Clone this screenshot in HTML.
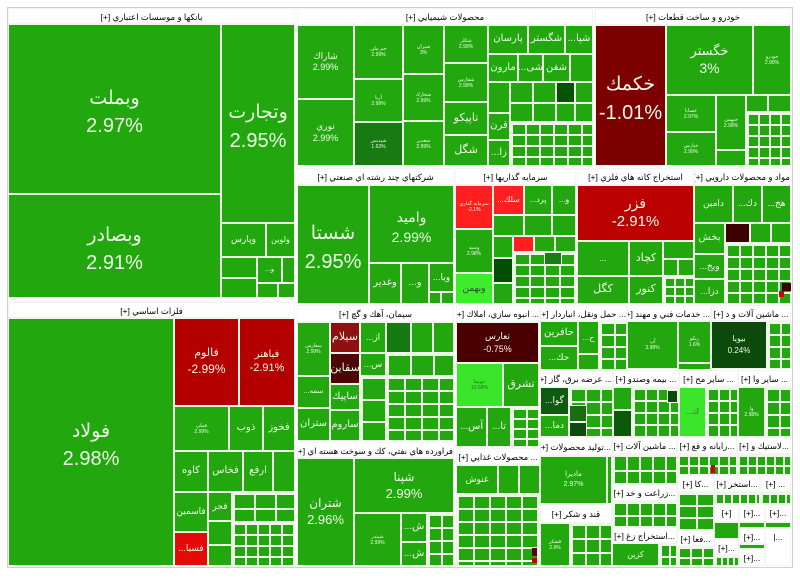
<!DOCTYPE html>
<html><head><meta charset="utf-8"><style>
body{margin:0;width:800px;height:579px;background:#fff;position:relative;overflow:hidden;font-family:"Liberation Sans","DejaVu Sans",sans-serif}
.c,.g,.h{position:absolute;box-sizing:border-box;overflow:hidden}
.c{border:1px solid #eef6ea;background:#22a80e;color:#eefbe8;display:flex;flex-direction:column;align-items:center;justify-content:center;text-align:center;white-space:nowrap;line-height:1.25}
.g{border:1px solid #eef6ea;background-color:#22a80e;background-image:linear-gradient(90deg,#eef6ea 2px,transparent 2px),linear-gradient(#eef6ea 2px,transparent 2px)}
.h{background:#fff;color:#000;font-size:8.5px;text-align:center;line-height:16px;white-space:nowrap;direction:rtl;border:1px solid #f4f4f4}
.b{padding-top:8px}
.t{font-size:5px;line-height:6px}
</style></head><body>
<div style="position:absolute;left:7px;top:7px;width:786px;height:561px;border:1px solid #d0d0d0;box-sizing:border-box"></div>

<!-- BANKS -->
<div class="h" style="left:8px;top:8px;width:287px;height:16px">بانكها و موسسات اعتباري [+]</div>
<div class="c b" style="left:8px;top:24px;width:213px;height:170px;line-height:1.45"><span style="font-size:19px">وبملت</span><span style="font-size:20px">2.97%</span></div>
<div class="c b" style="left:8px;top:194px;width:213px;height:104px;line-height:1.45"><span style="font-size:19px">وبصادر</span><span style="font-size:20px">2.91%</span></div>
<div class="c b" style="left:221px;top:24px;width:74px;height:199px;line-height:1.45"><span style="font-size:19px">وتجارت</span><span style="font-size:20px">2.95%</span></div>
<div class="c" style="left:221px;top:223px;width:45px;height:34px;font-size:9px">وپارس</div>
<div class="c" style="left:266px;top:223px;width:29px;height:34px;font-size:8px">ولوين</div>
<div class="c" style="left:221px;top:257px;width:36px;height:21px"></div>
<div class="c" style="left:221px;top:278px;width:36px;height:20px"></div>
<div class="c" style="left:257px;top:257px;width:25px;height:26px;font-size:7px">...و</div>
<div class="c" style="left:282px;top:257px;width:13px;height:26px"></div>
<div class="c" style="left:257px;top:283px;width:21px;height:15px"></div>
<div class="c" style="left:278px;top:283px;width:17px;height:15px"></div>

<!-- CHEMICALS -->
<div class="h" style="left:297px;top:8px;width:296px;height:17px">محصولات شيميايي [+]</div>
<div class="c" style="left:297px;top:25px;width:57px;height:74px;font-size:9px"><span>شاراك</span><span>2.99%</span></div>
<div class="c" style="left:297px;top:99px;width:57px;height:67px;font-size:9px"><span>نوري</span><span>2.99%</span></div>
<div class="c t" style="left:354px;top:25px;width:49px;height:54px"><span>جم پيلن</span><span>2.99%</span></div>
<div class="c t" style="left:354px;top:79px;width:49px;height:43px"><span>آريا</span><span>2.99%</span></div>
<div class="c t" style="left:354px;top:122px;width:49px;height:44px;background:#177a12"><span>شپديس</span><span>1.63%</span></div>
<div class="c t" style="left:403px;top:25px;width:41px;height:49px"><span>شيران</span><span>3%</span></div>
<div class="c t" style="left:403px;top:74px;width:41px;height:47px"><span>شخارك</span><span>2.99%</span></div>
<div class="c t" style="left:403px;top:121px;width:41px;height:45px"><span>شغدير</span><span>2.99%</span></div>
<div class="c t" style="left:444px;top:25px;width:44px;height:38px"><span>شكلر</span><span>2.99%</span></div>
<div class="c t" style="left:444px;top:63px;width:44px;height:39px"><span>شفارس</span><span>2.99%</span></div>
<div class="c" style="left:444px;top:102px;width:44px;height:33px;font-size:11px">تاپيكو</div>
<div class="c" style="left:444px;top:135px;width:44px;height:31px;font-size:11px">شگل</div>
<div class="c" style="left:488px;top:25px;width:40px;height:29px;font-size:10px">پارسان</div>
<div class="c" style="left:528px;top:25px;width:37px;height:29px;font-size:10px">شگستر</div>
<div class="c" style="left:565px;top:25px;width:28px;height:29px;font-size:10px">...شپا</div>
<div class="c" style="left:488px;top:54px;width:30px;height:28px;font-size:10px">مارون</div>
<div class="c" style="left:518px;top:54px;width:25px;height:28px;font-size:10px">...شی</div>
<div class="c" style="left:543px;top:54px;width:27px;height:28px;font-size:10px">شفن</div>
<div class="c" style="left:570px;top:54px;width:23px;height:28px"></div>
<div class="c" style="left:488px;top:82px;width:22px;height:31px"></div>
<div class="c" style="left:488px;top:113px;width:22px;height:27px;font-size:10px">قرن</div>
<div class="c" style="left:488px;top:140px;width:22px;height:26px;font-size:10px">...زا</div>
<div class="c" style="left:510px;top:82px;width:23px;height:21px"></div>
<div class="c" style="left:533px;top:82px;width:23px;height:21px"></div>
<div class="c" style="left:556px;top:82px;width:19px;height:21px;background:#045204"></div>
<div class="c" style="left:575px;top:82px;width:18px;height:21px"></div>
<div class="c" style="left:510px;top:103px;width:23px;height:19px"></div>
<div class="c" style="left:533px;top:103px;width:23px;height:19px"></div>
<div class="c" style="left:556px;top:103px;width:19px;height:19px"></div>
<div class="c" style="left:575px;top:103px;width:18px;height:19px"></div>
<div class="g" style="left:510px;top:122px;width:83px;height:44px;background-size:14px 11px"></div>

<!-- CARS -->
<div class="h" style="left:595px;top:8px;width:196px;height:17px">خودرو و ساخت قطعات [+]</div>
<div class="c b" style="left:595px;top:25px;width:71px;height:141px;background:#7d0000;line-height:1.45"><span style="font-size:19px">خكمك</span><span style="font-size:20px">-1.01%</span></div>
<div class="c" style="left:666px;top:25px;width:87px;height:70px;font-size:13px;line-height:1.35"><span>خگستر</span><span style="font-size:14px">3%</span></div>
<div class="c t" style="left:753px;top:25px;width:38px;height:70px"><span>خودرو</span><span>2.99%</span></div>
<div class="c t" style="left:666px;top:95px;width:50px;height:37px"><span>خساپا</span><span>2.97%</span></div>
<div class="c t" style="left:666px;top:132px;width:50px;height:34px"><span>خپارس</span><span>2.99%</span></div>
<div class="c t" style="left:716px;top:95px;width:30px;height:55px"><span>خبهمن</span><span>2.99%</span></div>
<div class="c" style="left:716px;top:150px;width:30px;height:16px"></div>
<div class="c" style="left:746px;top:95px;width:22px;height:17px"></div>
<div class="c" style="left:768px;top:95px;width:23px;height:17px"></div>
<div class="g" style="left:746px;top:112px;width:45px;height:54px;background-size:11px 11px"></div>

<!-- CONGLOMERATE -->
<div class="h" style="left:297px;top:168px;width:157px;height:17px">شركتهاي چند رشته اي صنعتي [+]</div>
<div class="c b" style="left:297px;top:185px;width:72px;height:119px;line-height:1.45"><span style="font-size:19px">شستا</span><span style="font-size:20px">2.95%</span></div>
<div class="c b" style="left:369px;top:185px;width:85px;height:78px;line-height:1.4"><span style="font-size:14px">واميد</span><span style="font-size:14px">2.99%</span></div>
<div class="c" style="left:369px;top:263px;width:32px;height:41px;font-size:10px">وغدير</div>
<div class="c" style="left:401px;top:263px;width:28px;height:41px;font-size:10px">...و</div>
<div class="c" style="left:429px;top:263px;width:25px;height:29px;font-size:9px">...ويا</div>
<div class="c" style="left:429px;top:292px;width:12px;height:12px"></div>
<div class="c" style="left:441px;top:292px;width:13px;height:12px"></div>

<!-- INVESTMENT -->
<div class="h" style="left:455px;top:168px;width:121px;height:17px">سرمايه گذاريها [+]</div>
<div class="c t" style="left:455px;top:185px;width:38px;height:44px;background:#ff1f1f"><span>سرمايه گذاري</span><span>-2.1%</span></div>
<div class="c t" style="left:455px;top:229px;width:38px;height:44px"><span>وسپه</span><span>2.98%</span></div>
<div class="c" style="left:455px;top:273px;width:38px;height:31px;background:#3ded2c;color:#2b4a2b;font-size:9px">وبهمن</div>
<div class="c" style="left:493px;top:185px;width:31px;height:30px;background:#ff1f1f;font-size:8px">...سلك</div>
<div class="c" style="left:524px;top:185px;width:28px;height:30px;font-size:8px">...پرد</div>
<div class="c" style="left:552px;top:185px;width:24px;height:30px;font-size:8px">...و</div>
<div class="c" style="left:493px;top:215px;width:31px;height:21px"></div>
<div class="c" style="left:524px;top:215px;width:28px;height:21px"></div>
<div class="c" style="left:552px;top:215px;width:24px;height:21px"></div>
<div class="c" style="left:493px;top:236px;width:20px;height:22px"></div>
<div class="c" style="left:513px;top:236px;width:21px;height:16px;background:#ff1f1f"></div>
<div class="c" style="left:534px;top:236px;width:21px;height:16px"></div>
<div class="c" style="left:555px;top:236px;width:21px;height:16px"></div>
<div class="c" style="left:493px;top:258px;width:20px;height:25px;background:#014d01"></div>
<div class="c" style="left:493px;top:283px;width:20px;height:21px"></div>
<div class="g" style="left:513px;top:252px;width:63px;height:52px;background-size:15px 11px"></div>
<div class="c" style="left:544px;top:252px;width:18px;height:13px;background:#1a7d14"></div>

<!-- MINING -->
<div class="h" style="left:577px;top:168px;width:117px;height:17px">استخراج كانه هاي فلزي [+]</div>
<div class="c" style="left:577px;top:185px;width:117px;height:56px;background:#bb0000;line-height:1.3"><span style="font-size:14px">فزر</span><span style="font-size:15px">-2.91%</span></div>
<div class="c" style="left:577px;top:241px;width:52px;height:35px;font-size:9px">...</div>
<div class="c" style="left:577px;top:276px;width:52px;height:28px;font-size:11px">كگل</div>
<div class="c" style="left:629px;top:241px;width:34px;height:35px;font-size:11px">كچاد</div>
<div class="c" style="left:629px;top:276px;width:34px;height:28px;font-size:11px">كنور</div>
<div class="c" style="left:663px;top:241px;width:31px;height:18px"></div>
<div class="c" style="left:663px;top:259px;width:15px;height:17px"></div>
<div class="c" style="left:678px;top:259px;width:16px;height:17px"></div>
<div class="g" style="left:663px;top:276px;width:31px;height:28px;background-size:10px 9px"></div>

<!-- PHARMA -->
<div class="h" style="left:694px;top:168px;width:97px;height:17px">مواد و محصولات دارويي [+]</div>
<div class="c" style="left:694px;top:185px;width:39px;height:38px;font-size:9px">دامين</div>
<div class="c" style="left:733px;top:185px;width:29px;height:38px;font-size:9px">...دك</div>
<div class="c" style="left:762px;top:185px;width:29px;height:38px;font-size:9px">...هج</div>
<div class="c" style="left:694px;top:223px;width:31px;height:31px;font-size:10px">بخش</div>
<div class="c" style="left:694px;top:254px;width:31px;height:25px;font-size:9px">...ويخ</div>
<div class="c" style="left:694px;top:279px;width:31px;height:25px;font-size:9px">...دزا</div>
<div class="c" style="left:725px;top:223px;width:25px;height:20px;background:#3d0000"></div>
<div class="c" style="left:750px;top:223px;width:21px;height:20px"></div>
<div class="c" style="left:771px;top:223px;width:20px;height:20px"></div>
<div class="g" style="left:725px;top:243px;width:66px;height:61px;background-size:13px 12px"></div>
<div class="c" style="left:782px;top:283px;width:9px;height:8px;background:#3a0000;border-width:0"></div>
<div class="c" style="left:779px;top:291px;width:5px;height:6px;background:#cc0000;border-width:0"></div>

<!-- METALS -->
<div class="h" style="left:8px;top:302px;width:287px;height:16px">فلزات اساسي [+]</div>
<div class="c b" style="left:8px;top:318px;width:166px;height:248px;line-height:1.45"><span style="font-size:19px">فولاد</span><span style="font-size:20px">2.98%</span></div>
<div class="c" style="left:174px;top:318px;width:65px;height:88px;background:#b50000;line-height:1.35"><span style="font-size:11px">فالوم</span><span style="font-size:12px">-2.99%</span></div>
<div class="c" style="left:239px;top:318px;width:56px;height:88px;background:#b50000;line-height:1.35"><span style="font-size:10px">فباهنر</span><span style="font-size:11px">-2.91%</span></div>
<div class="c t" style="left:174px;top:406px;width:55px;height:45px"><span>فملي</span><span>2.99%</span></div>
<div class="c" style="left:229px;top:406px;width:34px;height:45px;font-size:10px">ذوب</div>
<div class="c" style="left:263px;top:406px;width:32px;height:45px;font-size:10px">فخوز</div>
<div class="c" style="left:174px;top:451px;width:34px;height:41px;font-size:10px">كاوه</div>
<div class="c" style="left:208px;top:451px;width:35px;height:41px;font-size:10px">فخاس</div>
<div class="c" style="left:243px;top:451px;width:30px;height:41px;font-size:10px">ارفع</div>
<div class="c" style="left:273px;top:451px;width:22px;height:41px"></div>
<div class="c" style="left:174px;top:492px;width:34px;height:40px;font-size:9px">فاسمين</div>
<div class="c" style="left:174px;top:532px;width:34px;height:34px;background:#e50a0a;font-size:9px">...فسبا</div>
<div class="c" style="left:208px;top:492px;width:24px;height:29px;font-size:9px">فجر</div>
<div class="c" style="left:208px;top:521px;width:24px;height:24px"></div>
<div class="c" style="left:208px;top:545px;width:24px;height:21px"></div>
<div class="g" style="left:232px;top:492px;width:63px;height:30px;background-size:21px 15px"></div>
<div class="g" style="left:232px;top:522px;width:63px;height:44px;background-size:12px 11px"></div>

<!-- CEMENT -->
<div class="h" style="left:297px;top:305px;width:157px;height:17px">سيمان، آهك و گچ [+]</div>
<div class="c t" style="left:297px;top:322px;width:33px;height:54px"><span>سفارس</span><span>2.99%</span></div>
<div class="c" style="left:297px;top:376px;width:33px;height:32px;font-size:7px">...سمه</div>
<div class="c" style="left:297px;top:408px;width:33px;height:33px;font-size:10px">ستران</div>
<div class="c" style="left:330px;top:322px;width:30px;height:31px;background:#8e1010;font-size:11px">سيلام</div>
<div class="c" style="left:330px;top:353px;width:30px;height:31px;background:#4d0606;font-size:11px">سقاين</div>
<div class="c" style="left:330px;top:384px;width:30px;height:26px;font-size:10px">ساپيك</div>
<div class="c" style="left:330px;top:410px;width:30px;height:31px;font-size:10px">ساروم</div>
<div class="c" style="left:360px;top:322px;width:26px;height:31px;font-size:9px">...از</div>
<div class="c" style="left:360px;top:353px;width:26px;height:23px;font-size:9px">...س</div>
<div class="c" style="left:386px;top:322px;width:25px;height:31px;background:#167a12"></div>
<div class="c" style="left:411px;top:322px;width:22px;height:31px"></div>
<div class="c" style="left:433px;top:322px;width:21px;height:31px"></div>
<div class="g" style="left:386px;top:353px;width:68px;height:23px;background-size:23px 23px"></div>
<div class="g" style="left:360px;top:376px;width:26px;height:65px;background-size:26px 22px"></div>
<div class="g" style="left:386px;top:376px;width:68px;height:65px;background-size:17px 13px"></div>

<!-- HOUSING -->
<div class="h" style="left:456px;top:305px;width:84px;height:17px">... انبوه سازي، املاك [+]</div>
<div class="c" style="left:456px;top:322px;width:83px;height:41px;background:#4a0000;font-size:9px;line-height:1.4"><span>تعارس</span><span>-0.75%</span></div>
<div class="c t" style="left:456px;top:363px;width:47px;height:44px;background:#3ae52a;color:#246d24"><span>ثنوسا</span><span>10.58%</span></div>
<div class="c" style="left:503px;top:363px;width:36px;height:44px;font-size:11px">تشرق</div>
<div class="c" style="left:456px;top:407px;width:31px;height:40px;font-size:10px">...آس</div>
<div class="c" style="left:487px;top:407px;width:24px;height:40px;font-size:10px">...تا</div>
<div class="g" style="left:511px;top:407px;width:28px;height:40px;background-size:14px 10px"></div>

<!-- FOOD -->
<div class="h" style="left:456px;top:448px;width:84px;height:17px">... محصولات غذايي [+]</div>
<div class="c" style="left:456px;top:465px;width:42px;height:29px;font-size:9px">غنوش</div>
<div class="c" style="left:498px;top:465px;width:21px;height:29px"></div>
<div class="c" style="left:519px;top:465px;width:21px;height:29px"></div>
<div class="g" style="left:456px;top:494px;width:84px;height:72px;background-size:16px 13px"></div>
<div class="c" style="left:532px;top:548px;width:5px;height:8px;background:#600000;border-width:0"></div>
<div class="c" style="left:532px;top:558px;width:5px;height:5px;background:#cc0000;border-width:0"></div>

<!-- OIL -->
<div class="h" style="left:297px;top:442px;width:157px;height:16px">فراورده هاي نفتي، كك و سوخت هسته اي [+]</div>
<div class="c" style="left:297px;top:458px;width:57px;height:108px;line-height:1.35"><span style="font-size:12px">شتران</span><span style="font-size:13px">2.96%</span></div>
<div class="c" style="left:354px;top:458px;width:100px;height:55px;line-height:1.35"><span style="font-size:12px">شپنا</span><span style="font-size:13px">2.99%</span></div>
<div class="c t" style="left:354px;top:513px;width:47px;height:53px"><span>شبندر</span><span>2.99%</span></div>
<div class="c" style="left:401px;top:513px;width:26px;height:29px;font-size:10px">...ش</div>
<div class="c" style="left:401px;top:542px;width:26px;height:24px;font-size:10px">...ش</div>
<div class="g" style="left:427px;top:513px;width:27px;height:53px;background-size:13px 13px"></div>

<!-- TRANSPORT -->
<div class="h" style="left:540px;top:305px;width:87px;height:16px">... حمل ونقل، انباردار [+]</div>
<div class="c" style="left:540px;top:321px;width:38px;height:25px;font-size:10px">حافرين</div>
<div class="c" style="left:540px;top:346px;width:38px;height:24px;font-size:9px">...حك</div>
<div class="c" style="left:578px;top:321px;width:21px;height:33px;font-size:8px">...ح</div>
<div class="c" style="left:578px;top:354px;width:21px;height:16px"></div>
<div class="g" style="left:599px;top:321px;width:28px;height:49px;background-size:14px 12px"></div>

<!-- TECH SERVICES -->
<div class="h" style="left:627px;top:305px;width:84px;height:16px">... خدمات فني و مهند [+]</div>
<div class="c t" style="left:627px;top:321px;width:51px;height:48px"><span>آپ</span><span>3.98%</span></div>
<div class="c t" style="left:678px;top:321px;width:33px;height:42px"><span>رتكو</span><span>1.6%</span></div>
<div class="c" style="left:678px;top:363px;width:33px;height:7px"></div>

<!-- MACHINERY -->
<div class="h" style="left:711px;top:305px;width:80px;height:16px">... ماشين آلات و د [+]</div>
<div class="c" style="left:711px;top:321px;width:56px;height:48px;background:#0b4a0b;font-size:8px;line-height:1.5"><span>بيويا</span><span>0.24%</span></div>
<div class="g" style="left:767px;top:321px;width:24px;height:48px;background-size:12px 12px"></div>

<!-- POWER -->
<div class="h" style="left:540px;top:370px;width:73px;height:17px">... عرضه برق، گاز [+]</div>
<div class="c" style="left:540px;top:387px;width:29px;height:28px;background:#0f5a0f;font-size:9px">...گوا</div>
<div class="c" style="left:540px;top:415px;width:29px;height:22px;font-size:9px">...دما</div>
<div class="g" style="left:569px;top:387px;width:44px;height:50px;background-size:15px 13px"></div>
<div class="c" style="left:569px;top:405px;width:18px;height:17px;background:#1a6d14"></div>
<div class="c" style="left:569px;top:422px;width:18px;height:15px;background:#0d4a0d"></div>

<!-- INSURANCE -->
<div class="h" style="left:613px;top:370px;width:66px;height:17px">... بيمه وصندو [+]</div>
<div class="c" style="left:613px;top:387px;width:19px;height:23px"></div>
<div class="c" style="left:613px;top:410px;width:19px;height:27px;background:#0a5a0a"></div>
<div class="g" style="left:632px;top:387px;width:47px;height:50px;background-size:12px 12px"></div>
<div class="c" style="left:667px;top:390px;width:11px;height:13px;background:#0a4a0a"></div>

<!-- OTHER FIN -->
<div class="h" style="left:679px;top:370px;width:59px;height:17px">... ساير مح [+]</div>
<div class="c" style="left:679px;top:387px;width:27px;height:50px;background:#3ae52a;color:#2a6a2a;font-size:8px">...ك</div>
<div class="g" style="left:706px;top:387px;width:32px;height:50px;background-size:11px 12px"></div>

<!-- OTHER -->
<div class="h" style="left:738px;top:370px;width:53px;height:17px">... ساير وا [+]</div>
<div class="c t" style="left:738px;top:387px;width:27px;height:50px"><span>وا</span><span>2.98%</span></div>
<div class="g" style="left:765px;top:387px;width:26px;height:50px;background-size:13px 13px"></div>

<!-- ROW 3 -->
<div class="h" style="left:540px;top:437px;width:72px;height:19px;line-height:19px">...توليد محصولات [+]</div>
<div class="c" style="left:540px;top:456px;width:67px;height:48px;font-size:7px;line-height:1.5"><span>ماديرا</span><span>2.97%</span></div>
<div class="c" style="left:607px;top:456px;width:5px;height:48px"></div>
<div class="h" style="left:540px;top:504px;width:72px;height:19px;line-height:19px">قند و شكر [+]</div>
<div class="c t" style="left:540px;top:523px;width:30px;height:43px"><span>قشكر</span><span>2.9%</span></div>
<div class="g" style="left:570px;top:523px;width:42px;height:43px;background-size:14px 14px"></div>

<div class="h" style="left:612px;top:437px;width:65px;height:17px">... ماشين آلات [+]</div>
<div class="g" style="left:612px;top:454px;width:65px;height:30px;background-size:13px 15px"></div>
<div class="h" style="left:612px;top:484px;width:65px;height:17px">...زراعت و خد [+]</div>
<div class="g" style="left:612px;top:501px;width:65px;height:26px;background-size:13px 13px"></div>
<div class="h" style="left:612px;top:527px;width:65px;height:16px">...استخراج زغ [+]</div>
<div class="c" style="left:612px;top:543px;width:47px;height:23px;font-size:8px">كزين</div>
<div class="g" style="left:659px;top:543px;width:18px;height:23px;background-size:9px 12px"></div>

<div class="h" style="left:677px;top:437px;width:60px;height:17px">...رايانه و فع [+]</div>
<div class="g" style="left:677px;top:454px;width:60px;height:21px;background-size:10px 10px"></div>
<div class="c" style="left:711px;top:465px;width:4px;height:8px;background:#cc0000;border-width:0"></div>
<div class="h" style="left:737px;top:437px;width:54px;height:17px">...لاستيك و [+]</div>
<div class="g" style="left:737px;top:454px;width:54px;height:21px;background-size:9px 10px"></div>

<div class="h" style="left:677px;top:475px;width:37px;height:17px">...كا [+]</div>
<div class="g" style="left:677px;top:492px;width:37px;height:38px;background-size:18px 12px"></div>
<div class="h" style="left:714px;top:475px;width:46px;height:17px">...استخر [+]</div>
<div class="g" style="left:714px;top:492px;width:46px;height:12px;background-size:8px 12px"></div>
<div class="h" style="left:760px;top:475px;width:31px;height:17px">... [+]</div>
<div class="g" style="left:760px;top:492px;width:31px;height:12px;background-size:8px 12px"></div>
<div class="h" style="left:714px;top:504px;width:25px;height:18px">[+]</div>
<div class="h" style="left:739px;top:504px;width:26px;height:18px">...[+]</div>
<div class="h" style="left:765px;top:504px;width:26px;height:18px">...[+]</div>
<div class="c" style="left:714px;top:522px;width:25px;height:17px"></div>
<div class="c" style="left:739px;top:522px;width:26px;height:6px"></div>
<div class="c" style="left:765px;top:522px;width:26px;height:6px"></div>
<div class="h" style="left:677px;top:530px;width:37px;height:16px">...فعا [+]</div>
<div class="g" style="left:677px;top:546px;width:37px;height:20px;background-size:12px 10px"></div>
<div class="h" style="left:714px;top:539px;width:25px;height:16px">...[+]</div>
<div class="g" style="left:714px;top:555px;width:25px;height:11px;background-size:6px 11px"></div>
<div class="h" style="left:739px;top:528px;width:26px;height:16px">...[+]</div>
<div class="c" style="left:739px;top:544px;width:26px;height:5px"></div>
<div class="h" style="left:739px;top:549px;width:26px;height:17px">...[+]</div>
<div class="h" style="left:765px;top:528px;width:26px;height:38px">...|</div>
</body></html>
